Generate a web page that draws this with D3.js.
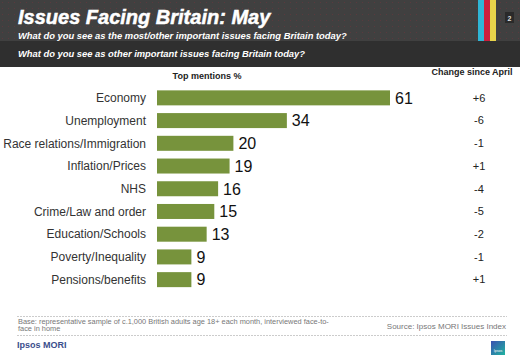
<!DOCTYPE html>
<html>
<head>
<meta charset="utf-8">
<script src="https://cdn.jsdelivr.net/npm/d3@7"></script>
<style>
body { margin: 0; background: #fff; }
svg { display: block; font-family: Arial, "Liberation Sans", sans-serif; }
</style>
</head>
<body>
<svg width="520" height="359"></svg>
<script>
var issues = ["Economy", "Unemployment", "Race relations/Immigration", "Inflation/Prices", "NHS",
	"Crime/Law and order", "Education/Schools", "Poverty/Inequality", "Pensions/benefits"];
var mentions = [61, 34, 20, 19, 16, 15, 13, 9, 9];
var changes = ["+6", "-6", "-1", "+1", "-4", "-5", "-2", "-1", "+1"];

var svg = d3.select("svg");
var width = +svg.attr("width");
var height = +svg.attr("height");

// header
var defs = svg.append("defs");
var pat = defs.append("pattern").attr("id", "dots").attr("width", 6).attr("height", 6)
	.attr("patternUnits", "userSpaceOnUse");
pat.append("rect").attr("width", 6).attr("height", 6).attr("fill", "#404040");
pat.append("rect").attr("x", 2).attr("y", 2).attr("width", 1).attr("height", 1).attr("fill", "#5a3a3e");

svg.append("rect").attr("x", 0).attr("y", 0).attr("width", width).attr("height", 41).attr("fill", "url(#dots)");
svg.append("rect").attr("x", 0).attr("y", 41).attr("width", width).attr("height", 26).attr("fill", "#2f2f2f");

var stripes = [["#2fb5d6", 478], ["#cc1e3c", 484], ["#e8d44a", 490]];
svg.selectAll("rect.stripe").data(stripes).enter().append("rect")
	.attr("class", "stripe")
	.attr("x", function(d) { return d[1]; }).attr("y", 0)
	.attr("width", 6).attr("height", 41)
	.attr("fill", function(d) { return d[0]; });

svg.append("rect").attr("x", 505).attr("y", 12).attr("width", 9).attr("height", 11).attr("fill", "#2a2a2a");
svg.append("text").attr("x", 509.5).attr("y", 20.5).attr("text-anchor", "middle")
	.attr("font-size", 7).attr("font-weight", "bold").attr("fill", "#ddd").text("2");

svg.append("text").attr("x", 18).attr("y", 24)
	.attr("font-size", 20).attr("font-weight", "bold").attr("font-style", "italic")
	.attr("fill", "#fff").attr("stroke", "#fff").attr("stroke-width", 0.5)
	.text("Issues Facing Britain: May");
svg.append("text").attr("x", 18).attr("y", 39)
	.attr("font-size", 9.4).attr("font-weight", "bold").attr("font-style", "italic")
	.attr("fill", "#fff").text("What do you see as the most/other important issues facing Britain today?");
svg.append("text").attr("x", 18).attr("y", 57)
	.attr("font-size", 9.4).attr("font-weight", "bold").attr("font-style", "italic")
	.attr("fill", "#fff").text("What do you see as other important issues facing Britain today?");

// chart
var x = d3.scaleLinear().domain([0, 61]).range([157, 390]);
var y = d3.scaleBand().domain(issues).range([86.5, 291]).paddingInner(0.34).paddingOuter(0.17);

svg.append("text").attr("x", 207).attr("y", 79).attr("text-anchor", "middle")
	.attr("font-size", 9).attr("font-weight", "bold").attr("fill", "#222").text("Top mentions %");
svg.append("text").attr("x", 472).attr("y", 75).attr("text-anchor", "middle")
	.attr("font-size", 9).attr("font-weight", "bold").attr("fill", "#222").text("Change since April");

var rows = svg.append("g").selectAll("g").data(issues).enter().append("g");

rows.append("rect")
	.attr("x", x(0))
	.attr("y", function(d) { return y(d); })
	.attr("width", function(d, i) { return x(mentions[i]) - x(0); })
	.attr("height", y.bandwidth())
	.attr("fill", "#77933c");

rows.append("text")
	.attr("x", 146)
	.attr("y", function(d) { return y(d) + y.bandwidth() / 2; })
	.attr("dy", "0.35em").attr("text-anchor", "end")
	.attr("font-size", 12).attr("fill", "#333")
	.text(function(d) { return d; });

rows.append("text")
	.attr("x", function(d, i) { return x(mentions[i]) + 5; })
	.attr("y", function(d) { return y(d) + y.bandwidth() / 2; })
	.attr("dy", "0.36em")
	.attr("font-size", 16).attr("fill", "#111")
	.text(function(d, i) { return mentions[i]; });

rows.append("text")
	.attr("x", 479)
	.attr("y", function(d) { return y(d) + y.bandwidth() / 2; })
	.attr("dy", "0.35em").attr("text-anchor", "middle")
	.attr("font-size", 11).attr("fill", "#222")
	.text(function(d, i) { return changes[i]; });

// footer
svg.append("line").attr("x1", 17).attr("x2", 507).attr("y1", 316.5).attr("y2", 316.5)
	.attr("stroke", "#ccc").attr("stroke-dasharray", "2,1");
svg.append("line").attr("x1", 17).attr("x2", 507).attr("y1", 335.5).attr("y2", 335.5)
	.attr("stroke", "#ccc").attr("stroke-dasharray", "2,1");
svg.append("text").attr("x", 18).attr("y", 323.5).attr("font-size", 7.4).attr("fill", "#777")
	.text("Base: representative sample of c.1,000 British adults age 18+ each month, interviewed face-to-");
svg.append("text").attr("x", 18).attr("y", 331).attr("font-size", 7.4).attr("fill", "#777")
	.text("face in home");
svg.append("text").attr("x", 506).attr("y", 329).attr("text-anchor", "end")
	.attr("font-size", 8).attr("fill", "#777").text("Source: Ipsos MORI  Issues Index");
svg.append("text").attr("x", 17).attr("y", 348)
	.attr("font-size", 9).attr("font-weight", "bold").attr("fill", "#3a4e8c").text("Ipsos MORI");

var lg = defs.append("linearGradient").attr("id", "logo").attr("x1", 0).attr("y1", 0).attr("x2", 1).attr("y2", 1);
lg.append("stop").attr("offset", 0).attr("stop-color", "#3b4fb0");
lg.append("stop").attr("offset", 1).attr("stop-color", "#1fb3a0");
svg.append("rect").attr("x", 491).attr("y", 341).attr("width", 14).attr("height", 14).attr("fill", "url(#logo)");
svg.append("text").attr("x", 498).attr("y", 352).attr("text-anchor", "middle")
	.attr("font-size", 3.5).attr("fill", "#fff").text("Ipsos");
</script>
</body>
</html>
